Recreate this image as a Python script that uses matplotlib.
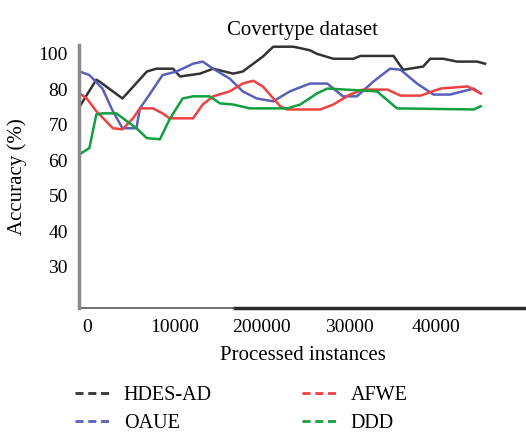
import matplotlib
matplotlib.use("Agg")
import matplotlib.pyplot as plt

plt.rcParams['font.family'] = ['Liberation Serif', 'DejaVu Serif']

# accuracy curves (y in axis units; the "100" label sits at 90)
x_hdes = [-900, 1000, 1400, 4000, 6800, 7900, 9800, 10600, 12900, 14400, 16700, 17800, 20100, 21300,
          23600, 25500, 26300, 28200, 30500, 31300, 35100, 36200, 38500, 39300, 40800, 42400, 44700, 45600]
y_hdes = [75.2, 82.7, 82.1, 77.4, 85, 85.8, 85.8, 83.6, 84.4, 85.8, 84.4, 85, 89.2, 92,
          92, 91, 90, 88.6, 88.6, 89.4, 89.4, 85.5, 86.4, 88.6, 88.6, 87.8, 87.8, 87.2]

x_oaue = [-900, 200, 1700, 2900, 4000, 5600, 6000, 7100, 8600, 10200, 12100, 13200, 14400, 16300, 17800,
          19400, 21300, 23200, 25500, 27500, 29300, 30900, 32800, 34700, 35900, 37800, 39700, 41600, 44300, 45100]
y_oaue = [85, 84, 80.2, 73.8, 69, 69, 74.6, 78.5, 84, 85, 87.2, 87.8, 85.8, 83, 79.4,
          77.4, 76.6, 79.4, 81.6, 81.6, 78, 78, 82.2, 85.8, 85.5, 81.6, 78.5, 78.5, 80.2, 78.8]

x_afwe = [-900, -100, 1000, 2900, 4000, 5200, 6000, 7500, 8600, 9400, 12100, 13200, 14400, 16300, 17800,
          19000, 20100, 22100, 22900, 26700, 28200, 30100, 31600, 34400, 35900, 38200, 40500, 43600, 45100]
y_afwe = [78.8, 77.4, 73.8, 69, 68.7, 71.8, 74.6, 74.6, 73.2, 71.8, 71.8, 75.7, 78, 79.4, 81.6,
          82.4, 80.8, 75.2, 74.3, 74.3, 75.7, 78.5, 79.9, 79.9, 78.2, 78.2, 80.2, 80.8, 78.8]

x_ddd = [-900, 200, 1000, 1700, 3300, 4500, 5600, 6800, 8300, 9400, 10900, 12100, 14000, 15200, 16700,
         18600, 22900, 24400, 26300, 27500, 33200, 35500, 44300, 45100]
y_ddd = [61.7, 63.4, 72.9, 73.2, 73.2, 71, 69, 66.2, 65.9, 71.5, 77.4, 78, 78, 76, 75.7,
         74.6, 74.6, 75.7, 78.8, 80.2, 79.4, 74.6, 74.3, 75.2]

xticks = [0, 10000, 20000, 30000, 40000]
xtick_labels = ['0', '10000', '200000', '30000', '40000']
yticks = [30, 40, 50, 60, 70, 80, 90]
ytick_labels = ['30', '40', '50', '60', '70', '80', '100']

fig = plt.figure(figsize=(5.26, 4.32), dpi=100)
ax = fig.add_axes([0.150, 0.287, 0.850, 0.609])

ax.plot(x_hdes, y_hdes, color='#333333', lw=1.8, label='HDES-AD')
ax.plot(x_oaue, y_oaue, color='#5a60b8', lw=1.8, label='OAUE')
ax.plot(x_afwe, y_afwe, color='#f04040', lw=1.8, label='AFWE')
ax.plot(x_ddd, y_ddd, color='#10a040', lw=1.8, label='DDD')

ax.set_xlim(-1000, 50300)
ax.set_ylim(18.3, 92.5)

ax.set_xticks(xticks)
ax.set_xticklabels(xtick_labels)
ax.set_yticks(yticks)
ax.set_yticklabels(ytick_labels)
ax.tick_params(length=0, labelsize=14, pad=8)

for s in ['top', 'right', 'bottom']:
    ax.spines[s].set_visible(False)
ax.spines['left'].set_color('#8a8a8a')
ax.spines['left'].set_linewidth(2.5)
# bottom axis: thin on the left part, heavier from about 17000 on
ax.axhline(18.3, xmin=0, xmax=0.35, color='#555555', lw=1.2, clip_on=False)
ax.axhline(18.3, xmin=0.35, xmax=1, color='#2a2a2a', lw=2.5, clip_on=False)

ax.set_title('Covertype dataset', fontsize=15, pad=7)
ax.set_xlabel('Processed instances', fontsize=15, labelpad=7)
ax.set_ylabel('Accuracy (%)', fontsize=15, labelpad=8)

h, l = ax.get_legend_handles_labels()
leg_handles = [plt.Line2D([], [], color=hh.get_color(), lw=2, ls=(0, (2.9, 1.7))) for hh in h]
fig.legend(leg_handles, l, ncol=2, loc='upper left', bbox_to_anchor=(0.128, 0.125),
           frameon=False, fontsize=14.5, handlelength=1.7, handletextpad=0.7,
           columnspacing=4.5, labelspacing=0.45, borderaxespad=0)

fig.savefig('out.png', dpi=100)
